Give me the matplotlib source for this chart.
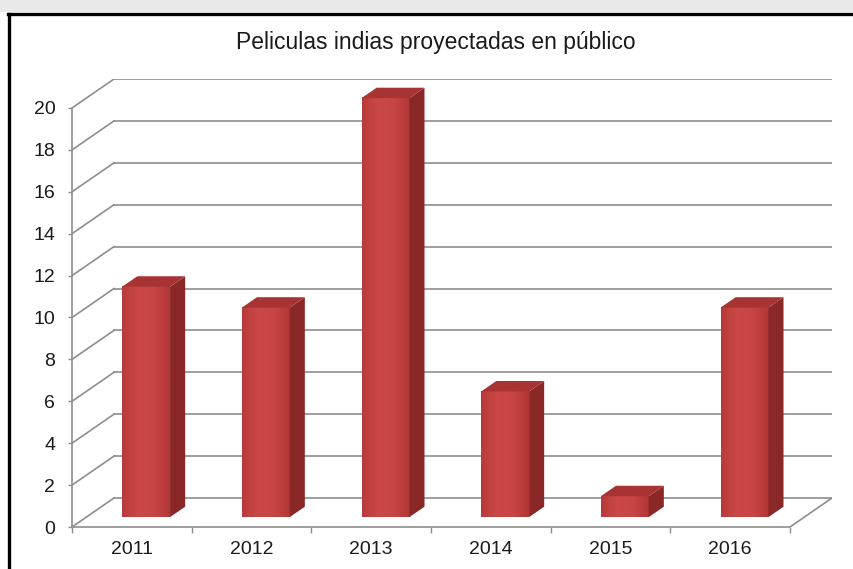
"""Columnas 3D: películas indias proyectadas en público por año (out.png)."""

import matplotlib.pyplot as plt
import numpy as np
from matplotlib.colors import LinearSegmentedColormap
from matplotlib.lines import Line2D
from matplotlib.patches import Polygon, Rectangle

plt.rcParams['font.family'] = ['Liberation Sans', 'DejaVu Sans']

years = ['2011', '2012', '2013', '2014', '2015', '2016']
peliculas = [11, 10, 20, 6, 1, 10]
y_ticks = list(range(0, 21, 2))

# profundidad de la "caja" 3D en unidades de datos (x: categorías, y: valor)
DX, DY = 0.351, 1.384
Z0, Z1 = 0.34, 0.70      # fracción de profundidad: cara frontal / trasera de la barra
BAR_W = 0.40

GRID = '#8e8e8e'
FRONT_CMAP = LinearSegmentedColormap.from_list(
    'frente', ['#b83a3a', '#cc4848', '#c84545', '#b33636'])
SIDE = '#8a2828'
TOP = '#a83333'


def draw_bar(ax, i, v):
    x0 = i + 0.5 - BAR_W / 2
    x1 = i + 0.5 + BAR_W / 2
    fx0, fx1 = x0 + Z0 * DX, x1 + Z0 * DX
    fy0 = Z0 * DY
    bx1 = x1 + Z1 * DX
    by0 = Z1 * DY
    # cara frontal con degradado
    grad = np.linspace(0, 1, 64).reshape(1, -1)
    ax.imshow(grad, cmap=FRONT_CMAP, aspect='auto', zorder=3,
              extent=(fx0, fx1, fy0, v + fy0), interpolation='bicubic')
    # lateral derecho
    ax.add_patch(Polygon([(fx1, fy0), (bx1, by0), (bx1, v + by0), (fx1, v + fy0)],
                         closed=True, facecolor=SIDE, edgecolor='none', zorder=3))
    # tapa superior
    ax.add_patch(Polygon([(fx0, v + fy0), (fx1, v + fy0), (bx1, v + by0),
                          (x0 + Z1 * DX, v + by0)],
                         closed=True, facecolor=TOP, edgecolor='none', zorder=3))


fig = plt.figure(figsize=(8.54, 5.69), dpi=100)

# franja superior gris y marco negro del gráfico
fig.add_artist(Rectangle((0, 1 - 12 / 569), 1, 12 / 569, transform=fig.transFigure,
                         facecolor='#e9e9e9', edgecolor='none'))
fig.add_artist(Line2D([9.5 / 854, 9.5 / 854], [0, 1 - 13.5 / 569],
                      transform=fig.transFigure, color='black', linewidth=2.4))
fig.add_artist(Line2D([8 / 854, 1], [1 - 13.5 / 569, 1 - 13.5 / 569],
                      transform=fig.transFigure, color='black', linewidth=2.4))

ax = fig.add_axes([72 / 854, 42 / 569, 760 / 854, 448 / 569])
n = len(years)

# pared del fondo, pared izquierda y suelo
for v in y_ticks:
    ax.plot([0, DX], [v, v + DY], color=GRID, linewidth=1.2, zorder=1)
    ax.plot([DX, n + DX], [v + DY, v + DY], color=GRID, linewidth=1.2, zorder=1)
ax.plot([n, n + DX], [0, DY], color=GRID, linewidth=1.2, zorder=1)

for i, v in enumerate(peliculas):
    draw_bar(ax, i, v)

ax.set_xlim(0, n + DX)
ax.set_ylim(0, 20 + DY)

for side in ('top', 'right'):
    ax.spines[side].set_visible(False)
ax.spines['left'].set_bounds(0, 20)
ax.spines['bottom'].set_bounds(0, n)
for side in ('left', 'bottom'):
    ax.spines[side].set_color(GRID)
    ax.spines[side].set_linewidth(1.2)

ax.set_yticks(y_ticks)
ax.set_yticklabels([str(t) for t in y_ticks])
ax.tick_params(axis='y', length=3, width=1, color=GRID, pad=9,
               labelsize=14, labelcolor='#1a1a1a')
ax.set_xticks(np.arange(n) + 0.5)
ax.set_xticklabels(years)
ax.set_xticks(np.arange(n + 1), minor=True)
ax.tick_params(axis='x', which='major', length=0, pad=10,
               labelsize=14, labelcolor='#1a1a1a')
ax.tick_params(axis='x', which='minor', length=4, width=1, color=GRID)

fig.text(436 / 854, 1 - 42 / 569, 'Peliculas indias proyectadas en público',
         ha='center', va='center', fontsize=16.5, color='#1a1a1a')

fig.savefig('out.png', dpi=100)
